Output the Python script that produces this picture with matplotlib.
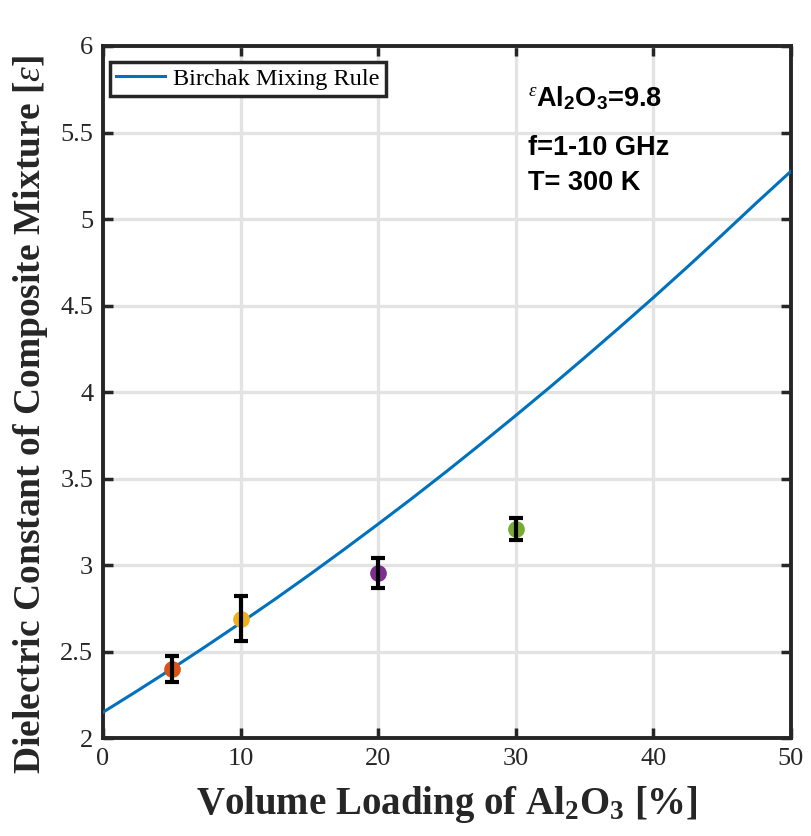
import matplotlib
matplotlib.use("Agg")
import matplotlib.pyplot as plt

# Birchak mixing rule curve
vol_curve = [0, 2.5, 5, 7.5, 10, 12.5, 15, 17.5, 20, 22.5, 25,
             27.5, 30, 32.5, 35, 37.5, 40, 42.5, 45, 47.5, 50]
eps_curve = [2.150, 2.274, 2.401, 2.532, 2.666, 2.803, 2.944, 3.089, 3.237, 3.388, 3.543,
             3.702, 3.864, 4.029, 4.198, 4.370, 4.545, 4.724, 4.907, 5.093, 5.275]

# measured points
vol_meas = [5, 10, 20, 30]
eps_meas = [2.40, 2.69, 2.955, 3.21]
err_meas = [0.075, 0.13, 0.085, 0.065]
colors_meas = ["#D95319", "#EDB120", "#7E2F8E", "#77AC30"]

serif = "Liberation Serif"
sans = "Liberation Sans"

plt.rcParams["mathtext.fontset"] = "custom"
plt.rcParams["mathtext.rm"] = "Liberation Serif"
plt.rcParams["mathtext.it"] = "Liberation Serif:italic"
plt.rcParams["mathtext.bf"] = "Liberation Serif:bold"
plt.rcParams["mathtext.sf"] = "Liberation Sans:bold"

fig = plt.figure(figsize=(8.11, 8.36), dpi=100)
ax = fig.add_axes([0.127, 0.117, 0.848, 0.828])

ax.plot(vol_curve, eps_curve, color="#0072BD", lw=2.2, label="Birchak Mixing Rule", zorder=3)

for x, y, e, c in zip(vol_meas, eps_meas, err_meas, colors_meas):
    ax.plot(x, y, "o", ms=11, color=c, mec=c, zorder=4)
    ax.errorbar(x, y, yerr=e, fmt="none", ecolor="black", elinewidth=3,
                capsize=5, capthick=3, zorder=5)

ax.set_xlim(0, 50)
ax.set_ylim(2, 6)
ax.set_xticks([0, 10, 20, 30, 40, 50])
ax.set_yticks([2, 2.5, 3, 3.5, 4, 4.5, 5, 5.5, 6])
ax.set_yticklabels(["2", "2.5", "3", "3.5", "4", "4.5", "5", "5.5", "6"])

ax.grid(True, color="#e3e3e3", lw=2.4, zorder=0)
ax.set_axisbelow(True)
ax.tick_params(direction="in", length=7, width=2.5, top=True, right=True,
               labelsize=19, colors="#262626", pad=7)
for lab in ax.get_xticklabels() + ax.get_yticklabels():
    lab.set_family(serif)
for s in ax.spines.values():
    s.set_linewidth(2.8)
    s.set_color("#262626")

ax.set_xlabel(r"Volume Loading of Al$_\mathbf{2}$O$_\mathbf{3}$ [%]", family=serif,
              fontsize=28, fontweight="bold", color="#262626", labelpad=10)
ax.set_ylabel(r"Dielectric Constant of Composite Mixture [$\epsilon$]", family=serif,
              fontsize=27, fontweight="bold", color="#262626")
ax.yaxis.set_label_coords(-0.077, 0.468)

leg = ax.legend(loc="upper left", bbox_to_anchor=(0.01, 0.977), borderaxespad=0,
                prop={"family": serif, "size": 17.5},
                fancybox=False, framealpha=1, borderpad=0.25, handlelength=2.0,
                handletextpad=0.35)
leg.get_frame().set_edgecolor("#262626")
leg.get_frame().set_linewidth(2.5)

ax.text(0.618, 0.925, r"$^{\epsilon}$Al$_\mathsf{2}$O$_\mathsf{3}$=9.8", transform=ax.transAxes,
        family=sans, fontsize=19.5, fontweight="bold", va="center")
ax.text(0.618, 0.853, "f=1-10 GHz", transform=ax.transAxes,
        family=sans, fontsize=19.5, fontweight="bold", va="center")
ax.text(0.618, 0.802, "T= 300 K", transform=ax.transAxes,
        family=sans, fontsize=19.5, fontweight="bold", va="center")

fig.savefig("out.png", dpi=100)
